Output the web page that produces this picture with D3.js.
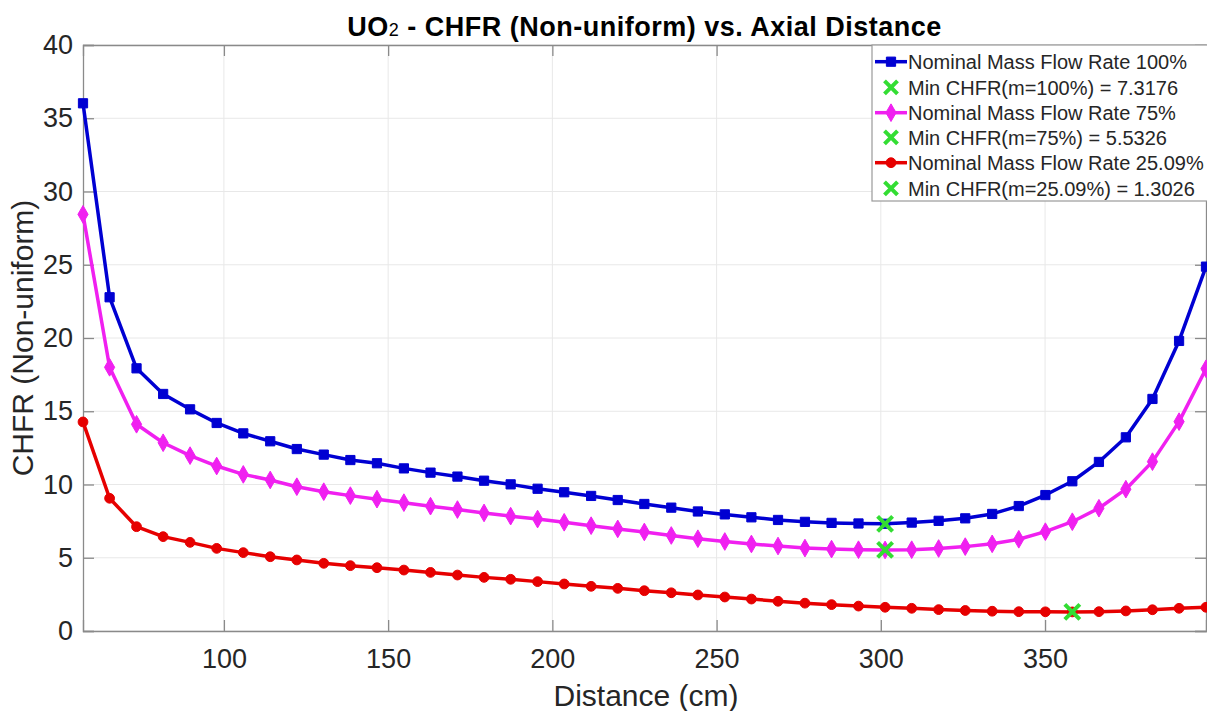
<!DOCTYPE html>
<html>
<head>
<meta charset="utf-8">
<script src="https://cdn.jsdelivr.net/npm/d3@7"></script>
<style>
  body { margin: 0; background: #fff; }
  svg { display: block; font-family: "Liberation Sans", Arial, sans-serif; }
</style>
</head>
<body>
<svg id="chart" width="1207" height="711"></svg>
<script>
// Axial distance (cm)
const distance = [57.1, 65.2, 73.4, 81.5, 89.7, 97.8, 105.9, 114.1, 122.2, 130.4, 138.5,
  146.6, 154.8, 162.9, 171.1, 179.2, 187.3, 195.5, 203.6, 211.8, 219.9, 228.0, 236.2,
  244.3, 252.5, 260.6, 268.7, 276.9, 285.0, 293.2, 301.3, 309.4, 317.6, 325.7, 333.9,
  342.0, 350.1, 358.3, 366.4, 374.6, 382.7, 390.8, 399.0];

const chfr100 = [36.02, 22.78, 17.93, 16.18, 15.13, 14.20, 13.49, 12.95, 12.42, 12.04, 11.67,
  11.45, 11.10, 10.81, 10.54, 10.26, 10.01, 9.71, 9.47, 9.22, 8.94, 8.67, 8.42,
  8.16, 7.96, 7.76, 7.58, 7.45, 7.38, 7.34, 7.3176, 7.40, 7.52, 7.69, 7.99,
  8.53, 9.28, 10.22, 11.54, 13.22, 15.84, 19.80, 24.87];

const chfr75 = [28.44, 18.00, 14.11, 12.85, 11.97, 11.26, 10.69, 10.31, 9.85, 9.51, 9.24,
  9.00, 8.76, 8.52, 8.29, 8.06, 7.84, 7.64, 7.42, 7.19, 6.97, 6.76, 6.52,
  6.30, 6.11, 5.94, 5.80, 5.66, 5.59, 5.55, 5.5326, 5.55, 5.63, 5.76, 5.95,
  6.26, 6.78, 7.46, 8.38, 9.68, 11.56, 14.29, 17.90];

const chfr25 = [14.27, 9.06, 7.12, 6.44, 6.05, 5.64, 5.35, 5.07, 4.85, 4.62, 4.46,
  4.32, 4.16, 4.00, 3.82, 3.66, 3.53, 3.37, 3.21, 3.05, 2.91, 2.75, 2.61,
  2.46, 2.32, 2.18, 2.03, 1.90, 1.80, 1.70, 1.62, 1.55, 1.46, 1.40, 1.35,
  1.32, 1.31, 1.3026, 1.32, 1.37, 1.45, 1.55, 1.62];

const minPoints = [
  { x: 301.3, y: 7.3176 },
  { x: 301.3, y: 5.5326 },
  { x: 358.3, y: 1.3026 }
];

const xTicks = [100, 150, 200, 250, 300, 350];
const yTicks = [0, 5, 10, 15, 20, 25, 30, 35, 40];

const legendLabels = [
  "Nominal Mass Flow Rate 100%",
  "Min CHFR(m=100%) = 7.3176",
  "Nominal Mass Flow Rate 75%",
  "Min CHFR(m=75%) = 5.5326",
  "Nominal Mass Flow Rate 25.09%",
  "Min CHFR(m=25.09%) = 1.3026"
];

const titleMain = "UO";
const titleSub = "2";
const titleRest = " - CHFR (Non-uniform) vs. Axial Distance";
const xLabel = "Distance (cm)";
const yLabel = "CHFR (Non-uniform)";

// ---------------- drawing ----------------
const svg = d3.select("#chart");
const L = 83, R = 1206, T = 45, B = 631;

const x = d3.scaleLinear().domain([57.1, 399.0]).range([L, R]);
const y = d3.scaleLinear().domain([0, 40]).range([B, T]);

const axisColor = "#8a8a8a";
const gridColor = "#e8e8e8";
const textColor = "#262626";

// grid
const grid = svg.append("g");
grid.selectAll("line.gx").data(xTicks).join("line")
  .attr("x1", d => x(d)).attr("x2", d => x(d)).attr("y1", T).attr("y2", B)
  .attr("stroke", gridColor).attr("stroke-width", 1);
grid.selectAll("line.gy").data(yTicks).join("line")
  .attr("x1", L).attr("x2", R).attr("y1", d => y(d)).attr("y2", d => y(d))
  .attr("stroke", gridColor).attr("stroke-width", 1);

// axes (MATLAB-like, ticks inward)
const xAxisB = d3.axisBottom(x).tickValues(xTicks).tickSize(-11).tickPadding(18).tickFormat(d3.format("d"));
const xAxisT = d3.axisTop(x).tickValues(xTicks).tickSize(-11).tickFormat("");
const yAxisL = d3.axisLeft(y).tickValues(yTicks).tickSize(-11).tickPadding(10).tickFormat(d3.format("d"));
const yAxisR = d3.axisRight(y).tickValues(yTicks).tickSize(-11).tickFormat("");

function styleAxis(g) {
  g.select(".domain").attr("stroke", axisColor).attr("stroke-width", 1.3);
  g.selectAll(".tick line").attr("stroke", axisColor).attr("stroke-width", 1.3);
  g.selectAll(".tick text").attr("fill", textColor)
    .style("font-size", "27px").style("font-family", "'Liberation Sans', Arial, sans-serif");
}

svg.append("g").attr("transform", `translate(0,${B})`).call(xAxisB).call(styleAxis);
svg.append("g").attr("transform", `translate(0,${T})`).call(xAxisT).call(styleAxis);
svg.append("g").attr("transform", `translate(${L},0)`).call(yAxisL).call(styleAxis);
svg.append("g").attr("transform", `translate(${R},0)`).call(yAxisR).call(styleAxis);

// series
const series = [
  { values: chfr100, color: "#0000d2", marker: "square", size: 85 },
  { values: chfr75, color: "#f020f0", marker: "diamond", size: 90 },
  { values: chfr25, color: "#e60000", marker: "circle", size: 75 }
];

const line = d3.line().x(d => x(d[0])).y(d => y(d[1]));
const symType = { square: d3.symbolSquare, diamond: d3.symbolDiamond, circle: d3.symbolCircle };

series.forEach(s => {
  const pts = distance.map((d, i) => [d, s.values[i]]);
  svg.append("path").datum(pts)
    .attr("fill", "none").attr("stroke", s.color).attr("stroke-width", 3.5)
    .attr("stroke-linejoin", "round").attr("d", line);
  svg.append("g").selectAll("path").data(pts).join("path")
    .attr("transform", d => `translate(${x(d[0])},${y(d[1])})`)
    .attr("d", d3.symbol().type(symType[s.marker]).size(s.size))
    .attr("fill", s.color).attr("stroke", s.color).attr("stroke-width", 1);
});

// min markers
const green = "#33dd33";
function drawX(g, cx, cy, h, w) {
  g.append("path")
    .attr("d", `M${cx - h},${cy - h}L${cx + h},${cy + h}M${cx - h},${cy + h}L${cx + h},${cy - h}`)
    .attr("stroke", green).attr("stroke-width", w).attr("fill", "none");
}
const mg = svg.append("g");
minPoints.forEach(p => drawX(mg, x(p.x), y(p.y), 7.5, 4));

// title
const title = svg.append("text")
  .attr("x", (L + R) / 2).attr("y", 36)
  .attr("text-anchor", "middle")
  .attr("fill", "#000")
  .style("font-size", "27px").style("font-weight", "bold").style("letter-spacing", "0.5px");
title.append("tspan").text(titleMain);
title.append("tspan").style("font-size", "18px").style("font-weight", "normal").text(titleSub);
title.append("tspan").text(titleRest);

// axis labels
svg.append("text")
  .attr("x", 646).attr("y", 706)
  .attr("text-anchor", "middle").attr("fill", textColor)
  .style("font-size", "30px").text(xLabel);
svg.append("text")
  .attr("transform", `translate(33,${(T + B) / 2}) rotate(-90)`)
  .attr("text-anchor", "middle").attr("fill", textColor)
  .style("font-size", "30px").text(yLabel);

// legend
const lg = svg.append("g");
lg.append("rect").attr("x", 872).attr("y", T).attr("width", 340).attr("height", 156)
  .attr("fill", "#fff").attr("stroke", "#9a9a9a").attr("stroke-width", 1.2);
const rowY = [61.7, 87.3, 112.7, 137.3, 162.7, 188.3];
legendLabels.forEach((lab, i) => {
  const cy = rowY[i];
  if (i % 2 === 0) {
    const s = series[i / 2];
    lg.append("line").attr("x1", 875).attr("x2", 907).attr("y1", cy).attr("y2", cy)
      .attr("stroke", s.color).attr("stroke-width", 3.5);
    lg.append("path").attr("transform", `translate(891,${cy})`)
      .attr("d", d3.symbol().type(symType[s.marker]).size(s.size))
      .attr("fill", s.color).attr("stroke", s.color);
  } else {
    drawX(lg, 891, cy, 6.5, 4);
  }
  lg.append("text").attr("x", 908).attr("y", cy).attr("dy", "0.36em")
    .attr("fill", textColor).style("font-size", "20px").text(lab);
});
</script>
</body>
</html>
